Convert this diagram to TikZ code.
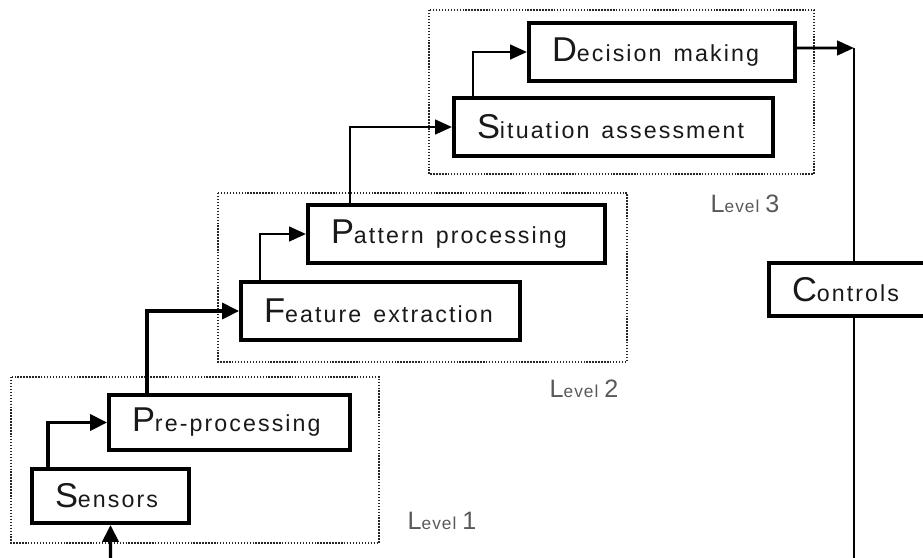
\documentclass[tikz,border=0pt]{standalone}
\usepackage{fontspec}
\setmainfont{Liberation Sans}
\newfontfamily\spacedfont[LetterSpace=9]{Liberation Sans}
\newfontfamily\lvlfont[LetterSpace=6]{Liberation Sans}
\usetikzlibrary{arrows.meta}

% big first letter, small spaced rest
\newcommand\boxtxt[2]{\mbox{{\fontsize{24.5}{26}\selectfont #1}{\spacedfont\fontsize{16.5}{20}\selectfont\spaceskip=0.52em #2}}}
\newcommand\lvltxt[1]{\mbox{{\fontsize{17.9}{20}\selectfont L}{\lvlfont\fontsize{12.3}{14}\selectfont evel }{\fontsize{17.9}{20}\selectfont #1}}}

\begin{document}
\begin{tikzpicture}[x=0.025cm, y=-0.025cm,
    blk/.style={draw, line width=2.85pt, fill=white, anchor=north west,
      inner xsep=0.575cm, inner ysep=0pt, align=left, text=black!90},
    frame/.style={line width=1.2pt, dash pattern=on 1pt off 1.1pt, black!85},
    arr/.style={line width=2.4pt, -{Triangle[length=0.42cm,width=0.4cm]}},
    arrthin/.style={line width=2pt, -{Triangle[length=0.42cm,width=0.36cm]}},
    thinline/.style={line width=1.9pt},
    lvl/.style={text=black!65}]
  \useasboundingbox (0,0) rectangle (923,558);
  \clip (0,0) rectangle (923,558);

  % level frames
  \draw[frame] (11,377) rectangle (379,543);
  \draw[frame] (218,193) rectangle (627,362);
  \draw[frame] (429,10) rectangle (814,174);

  % blocks
  \node[blk, text width=2.775cm, minimum height=1.35cm] (sensors) at (30,467) {\boxtxt{S}{ensors}};
  \node[blk, text width=4.875cm, minimum height=1.375cm] (pre) at (107,393) {\boxtxt{P}{re-processing}};
  \node[blk, text width=5.825cm, minimum height=1.45cm] (feature) at (239,280) {\boxtxt{F}{eature extraction}};
  \node[blk, text width=6.275cm, minimum height=1.45cm] (pattern) at (306,203) {\boxtxt{P}{attern processing}};
  \node[blk, text width=6.825cm, minimum height=1.45cm] (situation) at (452,96) {\boxtxt{S}{ituation assessment}};
  \node[blk, text width=5.5cm, minimum height=1.45cm] (decision) at (527,21) {\boxtxt{D}{ecision making}};

  % level labels
  \node[lvl] (lvl1) at (442,521) {\lvltxt{1}};
  \node[lvl] (lvl2) at (584,389) {\lvltxt{2}};
  \node[lvl] (lvl3) at (745,204) {\lvltxt{3}};

  % flow upwards
  \coordinate (input) at (110.5,575);
  \draw[arr] (input) -- (sensors);
  \draw[arr] ([xshift=0.45cm]sensors.north west) |- (pre);
  \draw[arr] ([xshift=1.0cm]pre.north west) |- (feature);
  \draw[arrthin] ([xshift=0.525cm]feature.north west) |- (pattern);
  \draw[arrthin] ([xshift=1.1cm]pattern.north west) |- (situation);
  \draw[arrthin] ([xshift=0.525cm]situation.north west) |- (decision);

  % feedback to controls
  \coordinate (out) at (854,48);
  \coordinate (output) at (854,575);
  \draw[arrthin] ([yshift=0.1cm]decision.east) -- (out);
  \node[blk, text width=3.0cm, minimum height=1.325cm] (controls) at (767,261) {\boxtxt{C}{ontrols}};
  \draw[thinline] (out) -- (out |- controls.north);
  \draw[thinline] (out |- controls.south) -- (output);
\end{tikzpicture}
\end{document}
